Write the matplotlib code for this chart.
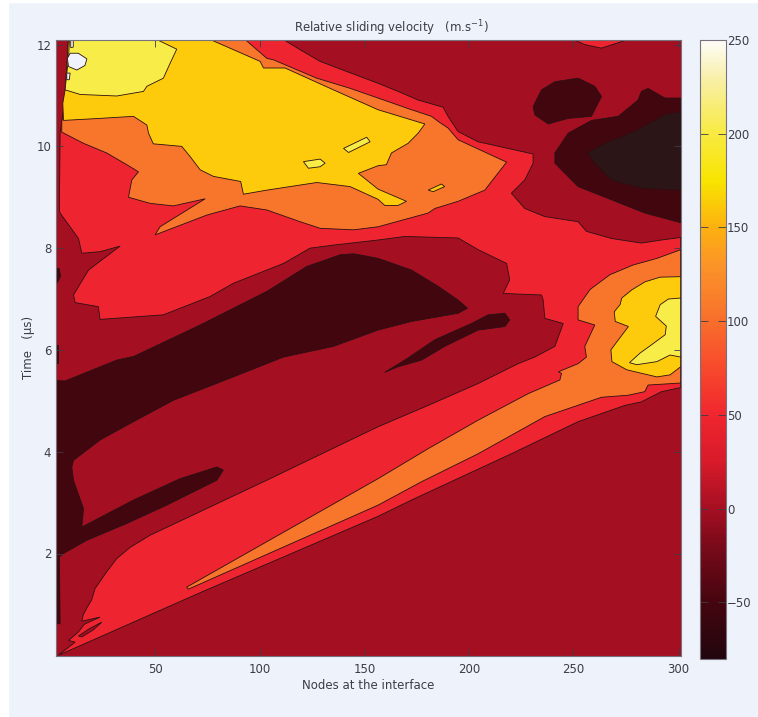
import numpy as np
import matplotlib
matplotlib.use("Agg")
import matplotlib.pyplot as plt
from matplotlib.cm import ScalarMappable
from matplotlib.colors import LinearSegmentedColormap, Normalize
from matplotlib.patches import Rectangle

# ==================== contour outlines: (node, time) ==================== #

red_main = [(111.2, 12.1), (119.2, 11.90), (128.8, 11.67), (141.6, 11.47), (156.5, 11.24), (166.1, 11.08),
            (175.7, 10.91), (187.6, 10.77), (190.0, 10.59), (194.8, 10.29), (204.4, 10.09), (230.7, 9.85),
            (230.7, 9.67), (226.7, 9.34), (220.3, 9.08), (226.7, 8.78), (236.3, 8.62), (252.2, 8.52),
            (256.2, 8.33), (268.2, 8.19), (282.5, 8.10), (292.1, 8.16), (301.3, 8.21), (301.3, 5.26),
            (292.1, 5.18), (282.5, 4.98), (274.6, 4.91), (252.2, 4.59), (220.3, 3.96), (172.5, 3.05),
            (156.5, 2.73), (71.4, 1.23), (3.6, 0.0), (11.6, 0.26), (8.4, 0.29), (13.2, 0.46), (16.0, 0.61),
            (23.5, 0.75), (14.8, 0.67), (15.5, 0.80), (17.2, 0.93), (19.5, 1.09), (21.1, 1.31), (26.7, 1.64),
            (31.5, 1.90), (37.9, 2.12), (47.5, 2.36), (103.3, 3.44), (156.5, 4.49),
            (180.5, 4.91), (204.4, 5.34), (223.5, 5.73), (231.5, 5.86), (241.1, 6.07), (245.1, 6.52),
            (236.3, 6.62), (235.5, 6.98), (234.7, 7.08), (216.4, 7.11), (219.5, 7.38), (218.0, 7.70),
            (204.4, 7.97), (194.8, 8.20), (169.3, 8.23), (156.5, 8.16), (135.2, 8.06), (124.0, 8.00),
            (111.3, 7.70), (87.3, 7.31), (76.2, 7.05), (53.8, 6.69), (23.5, 6.60), (22.7, 6.85), (11.6, 6.93),
            (10.8, 7.08), (18.0, 7.57), (33.1, 8.04), (23.5, 7.93), (14.8, 7.90), (13.2, 8.19), (4.4, 8.69),
            (4.07, 8.75), (4.4, 10.26), (5.2, 10.49), (6.8, 10.91), (8.4, 12.1)]
red_top = [(249.8, 12.1), (255.4, 12.0), (263.4, 11.93), (274.6, 12.08), (274.6, 12.1)]
red_fleck = [(5.0, 3.95), (6.5, 3.85), (5.5, 3.50)]

orange_upper = [(92.9, 12.1), (103.3, 11.73), (106.5, 11.70), (127.2, 11.34), (143.2, 11.14), (156.5, 10.95),
                (172.5, 10.72), (182.1, 10.59), (185.3, 10.49), (190.0, 10.36), (194.8, 10.13), (218.0, 9.69),
                (210.8, 9.31), (207.6, 9.14), (194.8, 8.92), (183.7, 8.78), (180.5, 8.69), (156.5, 8.42),
                (144.8, 8.36), (128.8, 8.39), (119.2, 8.52), (103.3, 8.75), (90.5, 8.83), (74.6, 8.65),
                (49.8, 8.26), (52.2, 8.42), (73.8, 8.97), (58.6, 8.83), (47.5, 8.88), (37.1, 9.00), (38.7, 9.34),
                (41.9, 9.50), (36.3, 9.64), (26.7, 9.87), (15.6, 10.06), (5.2, 10.28), (5.2, 10.49), (7.6, 10.91),
                (8.4, 12.1)]
orange_right = [(301.3, 7.97), (290.0, 7.80), (278.6, 7.67), (267.5, 7.48), (258.0, 7.19), (252.2, 6.85), (252.2, 6.59),
                (260.2, 6.49), (255.4, 6.07), (256.2, 5.86), (252.2, 5.73), (242.7, 5.57), (244.3, 5.54),
                (243.5, 5.41), (228.3, 5.14), (204.4, 4.62), (180.5, 4.06), (156.5, 3.47), (65.0, 1.34),
                (65.8, 1.30), (156.5, 2.95), (177.3, 3.41), (204.4, 3.96), (236.3, 4.69), (263.4, 5.07),
                (276.2, 5.11), (284.1, 5.18), (285.7, 5.31), (301.3, 5.35)]

yellow_upper = [(76.2, 12.1), (100.1, 11.67), (101.7, 11.54), (112.0, 11.54), (135.2, 11.11), (156.5, 10.72),
                (178.9, 10.44), (175.7, 10.26), (170.9, 10.06), (162.9, 9.87), (160.5, 9.64), (156.5, 9.62),
                (147.1, 9.47), (156.5, 9.16), (170.1, 8.92), (166.1, 8.84), (159.7, 8.84), (156.5, 8.96),
                (143.1, 9.21), (127.2, 9.29), (103.3, 9.14), (92.1, 9.06), (90.8, 9.31), (77.8, 9.41), (71.4, 9.54),
                (66.6, 9.80), (62.6, 10.00), (49.0, 10.05), (46.7, 10.26), (45.9, 10.42), (39.5, 10.59),
                (23.5, 10.55), (6.0, 10.51), (5.7, 10.85), (6.8, 11.11), (8.4, 12.1)]
yellow_right = [(301.3, 7.44), (291.5, 7.43), (284.3, 7.34), (277.9, 7.18), (273.1, 7.02), (272.3, 6.89),
                (269.5, 6.75), (270.0, 6.56), (276.3, 6.46), (271.5, 6.20), (267.9, 6.00), (268.4, 5.77),
                (275.5, 5.61), (289.9, 5.47), (296.2, 5.51), (301.3, 5.67)]
yellow_island = [(180.5, 9.14), (186.8, 9.26), (188.4, 9.21), (182.9, 9.11)]

pale_upper = [(8.9, 12.1), (50.6, 12.1), (60.2, 11.91), (57.0, 11.63), (53.8, 11.34), (45.9, 11.18), (44.3, 11.08),
              (31.5, 10.99), (14.0, 11.02), (6.8, 11.11), (7.6, 11.44), (8.4, 11.70)]
pale_right = [(301.3, 7.02), (295.4, 7.00), (291.5, 6.89), (289.3, 6.66), (294.4, 6.47), (293.9, 6.30),
              (288.3, 6.13), (281.9, 5.94), (276.8, 5.75), (280.3, 5.71), (289.9, 5.77), (296.2, 5.90), (301.3, 5.86)]
pale_island_a = [(120.8, 9.70), (128.8, 9.75), (131.2, 9.67), (128.8, 9.60), (123.2, 9.57)]
pale_island_b = [(140.0, 9.96), (151.1, 10.18), (152.7, 10.09), (142.4, 9.88)]

white_spot = [(7.9, 11.73), (9.2, 11.83), (13.1, 11.83), (17.2, 11.72), (16.3, 11.59), (12.4, 11.50), (8.4, 11.57)]
white_top = [(9.5, 12.1), (10.7, 12.1), (10.7, 11.95), (9.5, 11.94)]
white_low = [(7.6, 11.44), (9.2, 11.44), (8.8, 11.31), (7.6, 11.31)]

dark_band = [(138.4, 7.87), (144.8, 7.89), (156.5, 7.80), (172.5, 7.57), (185.3, 7.25), (194.8, 6.98),
             (199.3, 6.82), (194.8, 6.72), (172.5, 6.56), (156.5, 6.39), (135.2, 6.07), (111.3, 5.86), (87.3, 5.47),
             (58.6, 5.01), (39.5, 4.59), (23.5, 4.23), (10.8, 3.83), (10.0, 3.70), (10.8, 3.44), (15.6, 2.88),
             (14.8, 2.52), (39.5, 3.05), (61.8, 3.47), (79.4, 3.70), (82.5, 3.64), (79.4, 3.44), (55.4, 2.95),
             (36.3, 2.59), (17.2, 2.26), (6.0, 2.00), (4.07, 1.94), (4.4, 0.62), (2.5, 0.62), (2.2, 0.62),
             (2.2, 5.40), (6.8, 5.39), (31.5, 5.80), (39.5, 5.87), (71.4, 6.49), (103.3, 7.15), (122.4, 7.64)]
dark_lens = [(159.7, 5.56), (169.3, 5.80), (183.7, 6.20), (201.2, 6.52), (209.2, 6.69), (217.2, 6.72), (219.5, 6.59),
             (217.2, 6.46), (204.4, 6.39), (188.4, 6.07), (177.3, 5.80), (166.1, 5.67)]
dark_blob = [(230.7, 10.78), (234.7, 11.11), (241.1, 11.27), (252.2, 11.34), (260.2, 11.18), (263.4, 10.98),
             (258.6, 10.59), (247.5, 10.55), (237.9, 10.44), (231.5, 10.62)]
dark_right = [(301.3, 10.95), (293.7, 10.95), (285.7, 11.14), (282.5, 11.08), (280.9, 10.91), (271.4, 10.59),
              (258.6, 10.51), (247.5, 10.26), (241.1, 9.87), (241.1, 9.67), (252.2, 9.21), (268.2, 8.95),
              (284.1, 8.69), (301.3, 8.50)]
dark_fleck_a = [(2.2, 7.6), (4.0, 7.6), (4.6, 7.45), (3.2, 7.33), (2.2, 7.3)]
dark_fleck_b = [(2.2, 6.1), (3.5, 6.1), (3.5, 5.75), (2.2, 5.75)]
darkest_right = [(301.3, 10.68), (293.7, 10.62), (279.3, 10.29), (265.0, 10.06), (257.0, 9.87), (260.2, 9.67),
                 (268.2, 9.34), (282.5, 9.18), (301.3, 9.14)]

base_slit = [(13.2, 0.38), (18.7, 0.53), (24.3, 0.65), (20.3, 0.50), (14.8, 0.36)]

x_ticks = [50, 100, 150, 200, 250, 300]
y_ticks = [2, 4, 6, 8, 10, 12]
cbar_ticks = [-50, 0, 50, 100, 150, 200, 250]

# colour of each band
col_base = "#a50f22"
col_red = "#ee2530"
col_orange = "#f8752c"
col_yellow = "#fdcb0c"
col_pale = "#f8ec48"
col_white = "#f0f3fb"
col_dark = "#42060f"
col_darkest = "#2c1516"

# colourbar stops (value, colour)
cbar_values = [-80, -50, -20, 0, 25, 50, 80, 105, 130, 150, 175, 200, 230, 250]
cbar_colors = ["#22060f", "#45060f", "#7a0a1a", "#a50f22", "#d81a2a", "#f0262e", "#f8502c", "#f8752c",
               "#fb9428", "#fdb010", "#f8e400", "#f8ea40", "#f8efa8", "#fdfdf8"]

# Draw order matters, later layers sit on top
layers = [
    (red_main, col_red), (red_top, col_red), (red_fleck, col_red),
    (base_slit, col_base),
    (orange_upper, col_orange), (orange_right, col_orange),
    (yellow_upper, col_yellow), (yellow_right, col_yellow), (yellow_island, col_yellow),
    (pale_upper, col_pale), (pale_right, col_pale), (pale_island_a, col_pale), (pale_island_b, col_pale),
    (white_spot, col_white), (white_top, col_white), (white_low, col_white),
    (dark_band, col_dark), (dark_lens, col_dark), (dark_blob, col_dark), (dark_right, col_dark),
    (dark_fleck_a, col_dark), (dark_fleck_b, col_dark), (darkest_right, col_darkest),
]

W, H = 758, 717
text_col = "#3c3c46"
plt.rcParams["font.family"] = "DejaVu Sans"
plt.rcParams["font.size"] = 8.5

fig = plt.figure(figsize=(W / 100, H / 100), dpi=100, facecolor="#edf2fb")
fig.add_artist(Rectangle((0, 0), 8 / W, 1, transform=fig.transFigure, color="white", zorder=-1))
fig.add_artist(Rectangle((0, 1 - 2 / H), 1, 2 / H, transform=fig.transFigure, color="white", zorder=-1))

ax = fig.add_axes([55.5 / W, (H - 656.3) / H, (680.7 - 55.5) / W, (656.3 - 39.5) / H])
ax.set_facecolor(col_base)
for outline, colour in layers:
    nodes, times = zip(*outline)
    ax.fill(nodes, times, facecolor=colour, edgecolor="#2a1012", linewidth=0.6)

ax.set_xlim(2.2, 301.3)
ax.set_ylim(-0.02, 12.1)
ax.set_xticks(x_ticks)
ax.set_yticks(y_ticks)
ax.tick_params(direction="in", length=5, width=0.6, colors=text_col, top=True, right=True, labelsize=8.5)
ax.tick_params(axis="x", pad=5)
ax.tick_params(axis="y", pad=3)
for spine in ax.spines.values():
    spine.set_color("#77727c")
    spine.set_linewidth(0.8)
ax.set_xlabel("Nodes at the interface", fontsize=8.5, color=text_col, labelpad=2)
ax.set_ylabel("Time   (µs)", fontsize=8.5, color=text_col, labelpad=1)
ax.set_title("Relative sliding velocity   (m.s$^{-1}$)", fontsize=8.5, color=text_col, x=0.537, pad=5)

cax = fig.add_axes([699.7 / W, (H - 658.7) / H, 26 / W, (658.7 - 40) / H])
norm = Normalize(cbar_values[0], cbar_values[-1])
stops = [(norm(v), c) for v, c in zip(cbar_values, cbar_colors)]
cmap = LinearSegmentedColormap.from_list("sliding", stops, N=256)
cbar = fig.colorbar(ScalarMappable(norm=norm, cmap=cmap), cax=cax, ticks=cbar_ticks)
cbar.ax.tick_params(direction="in", length=6, width=0.6, colors=text_col, left=True, right=True, labelsize=8.5, pad=1)
cbar.outline.set_edgecolor("#77727c")
cbar.outline.set_linewidth(0.8)

fig.savefig("out.png", dpi=100, facecolor=fig.get_facecolor())
